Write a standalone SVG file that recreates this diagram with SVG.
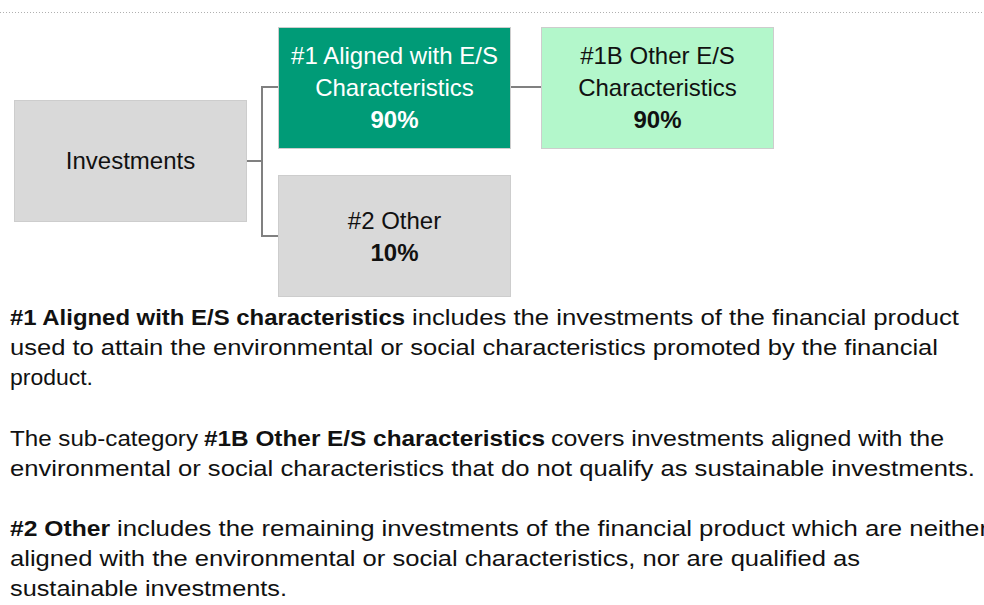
<svg xmlns="http://www.w3.org/2000/svg" width="984" height="605" viewBox="0 0 984 605">
<style>
.box{stroke:#cdcdcd;stroke-width:1}
.gray{fill:#d9d9d9}
.green{fill:#009b77}
.light{fill:#b3f7cb}
.bt{font-family:"Liberation Sans",Arial,sans-serif;font-size:24px;text-anchor:middle}
.w{fill:#ffffff}
.k{fill:#111111}
.b{font-weight:bold}
.conn{fill:none;stroke:#808080;stroke-width:2}
.p{font-family:"Liberation Sans",Arial,sans-serif;font-size:22px;fill:#111111}
</style>
<line x1="0" y1="12.5" x2="984" y2="12.5" stroke="#b0b0b0" stroke-width="1" stroke-dasharray="1 2"/>
<g id="connectors">
<polyline class="conn" points="246,161 262,161"/>
<polyline class="conn" points="278,87 262,87 262,236 278,236"/>
<polyline class="conn" points="510,87 541,87"/>
</g>
<g id="investments">
<rect class="box gray" x="14.5" y="100.5" width="232" height="121"/>
<text class="bt k" x="130.5" y="169">Investments</text>
</g>
<g id="aligned">
<rect class="box green" x="278.5" y="27.5" width="232" height="121"/>
<text class="bt w" x="394.5" y="64">#1 Aligned with E/S</text>
<text class="bt w" x="394.5" y="96">Characteristics</text>
<text class="bt w b" x="394.5" y="128">90%</text>
</g>
<g id="other-es">
<rect class="box light" x="541.5" y="27.5" width="232" height="121"/>
<text class="bt k" x="657.5" y="64">#1B Other E/S</text>
<text class="bt k" x="657.5" y="96">Characteristics</text>
<text class="bt k b" x="657.5" y="128">90%</text>
</g>
<g id="other">
<rect class="box gray" x="278.5" y="175.5" width="232" height="121"/>
<text class="bt k" x="394.5" y="229">#2 Other</text>
<text class="bt k b" x="394.5" y="261">10%</text>
</g>
<g id="notes">
<text class="p b" x="10" y="325" textLength="395" lengthAdjust="spacingAndGlyphs">#1 Aligned with E/S characteristics</text>
<text class="p" x="412" y="325" textLength="547" lengthAdjust="spacingAndGlyphs">includes the investments of the financial product</text>
<text class="p" x="10" y="355" textLength="928" lengthAdjust="spacingAndGlyphs">used to attain the environmental or social characteristics promoted by the financial</text>
<text class="p" x="10" y="385" textLength="83" lengthAdjust="spacingAndGlyphs">product.</text>
<text class="p" x="10" y="446" textLength="188" lengthAdjust="spacingAndGlyphs">The sub-category</text>
<text class="p b" x="204" y="446" textLength="341" lengthAdjust="spacingAndGlyphs">#1B Other E/S characteristics</text>
<text class="p" x="551" y="446" textLength="393" lengthAdjust="spacingAndGlyphs">covers investments aligned with the</text>
<text class="p" x="10" y="476" textLength="965" lengthAdjust="spacingAndGlyphs">environmental or social characteristics that do not qualify as sustainable investments.</text>
<text class="p b" x="10" y="536" textLength="100" lengthAdjust="spacingAndGlyphs">#2 Other</text>
<text class="p" x="117" y="536" textLength="871" lengthAdjust="spacingAndGlyphs">includes the remaining investments of the financial product which are neither</text>
<text class="p" x="10" y="566" textLength="850" lengthAdjust="spacingAndGlyphs">aligned with the environmental or social characteristics, nor are qualified as</text>
<text class="p" x="10" y="596" textLength="277" lengthAdjust="spacingAndGlyphs">sustainable investments.</text>
</g>
</svg>
